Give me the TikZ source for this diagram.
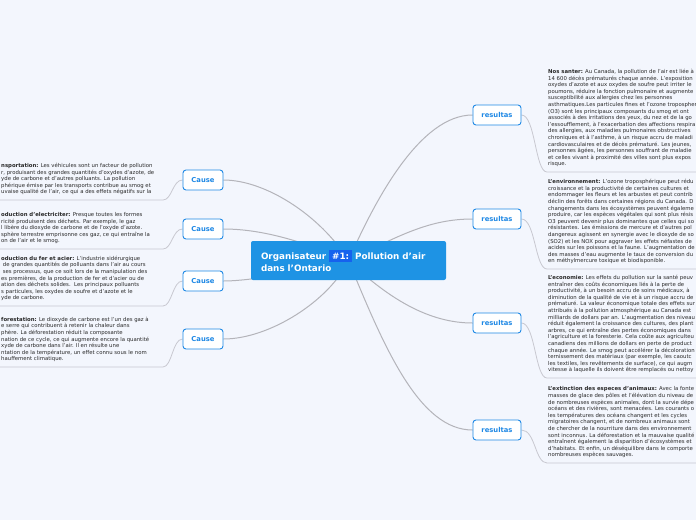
\documentclass[tikz,border=0pt]{standalone}
\usepackage{fontspec}
\setmainfont{DejaVu Sans}
\usepackage{xcolor}
\usetikzlibrary{backgrounds}

\definecolor{bgcol}{RGB}{243,246,253}
\definecolor{mainblue}{RGB}{30,147,228}
\definecolor{tagblue}{RGB}{22,98,238}
\definecolor{causeblue}{RGB}{30,136,229}
\definecolor{linkgray}{RGB}{180,180,186}
\definecolor{sublink}{RGB}{200,200,208}
\definecolor{notetext}{RGB}{40,40,40}

\newcommand{\notefont}{\fontsize{5.35}{6.6}\selectfont}

\begin{document}
\begin{tikzpicture}[x=1pt, y=-1pt,
    topic/.style={fill=mainblue, rounded corners=2pt, text=white, align=left, text width=175pt,
      inner xsep=10pt, minimum height=39pt, font=\fontsize{8.8}{12}\selectfont\bfseries},
    cause/.style={draw=causeblue, fill=white, rounded corners=3pt, line width=0.9pt, minimum width=40pt,
      minimum height=20pt, inner sep=0pt, text=causeblue, font=\fontsize{6.8}{8}\selectfont\bfseries},
    result/.style={cause, minimum width=48pt},
    note/.style={anchor=south west, align=left, inner xsep=1pt, inner ysep=4pt, text=notetext, font=\notefont},
    branch/.style={draw=linkgray, line width=1pt},
    link/.style={draw=sublink, line width=0.8pt}
  ]
    \useasboundingbox (0,0) rectangle (696,520);

    \node[topic] (org) at (348.5,260.5) {Organisateur \colorbox{tagblue}{\#1:} Pollution d'air\\dans l'Ontario};

    % causes
    \node[cause] (c1) at (203,180) {Cause};
    \node[cause] (c2) at (203,229) {Cause};
    \node[cause] (c3) at (203,281) {Cause};
    \node[cause] (c4) at (203,339) {Cause};

    % resultats
    \node[result] (r1) at (497,115) {resultas};
    \node[result] (r2) at (497,219) {resultas};
    \node[result] (r3) at (497,323) {resultas};
    \node[result] (r4) at (497,430) {resultas};

    % notes on the left
    \node[note] (transp) at (0,200) {\textbf{nsportation:} Les véhicules sont un facteur de pollution\\
      r, produisant des grandes quantités d'oxydes d'azote, de\\
      yde de carbone et d'autres polluants. La pollution\\
      phérique émise par les transports contribue au smog et\\
      uvaise qualité de l'air, ce qui a des effets négatifs sur la\strut};
    \node[note] (elec) at (0,249) {\textbf{oduction d'electriciter:} Presque toutes les formes\\
      ricité produisent des déchets. Par exemple, le gaz\\
      l libère du dioxyde de carbone et de l'oxyde d'azote.\\
      sphère terrestre emprisonne ces gaz, ce qui entraîne la\\
      on de l'air et le smog.\strut};
    \node[note] (fer) at (0,306) {\textbf{oduction du fer et acier:} L'industrie sidérurgique\\
      \ de grandes quantités de polluants dans l'air au cours\\
      \ ses processus, que ce soit lors de la manipulation des\\
      es premières, de la production de fer et d'acier ou de\\
      ation des déchets solides.\ \ Les principaux polluants\\
      s particules, les oxydes de soufre et d'azote et le\\
      yde de carbone.\strut};
    \node[note] (defor) at (0,367) {\textbf{forestation:} Le dioxyde de carbone est l'un des gaz à\\
      e serre qui contribuent à retenir la chaleur dans\\
      phère. La déforestation réduit la composante\\
      nation de ce cycle, ce qui augmente encore la quantité\\
      xyde de carbone dans l'air. Il en résulte une\\
      ntation de la température, un effet connu sous le nom\\
      hauffement climatique.\strut};

    % notes on the right
    \node[note] (sante) at (547,172) {\textbf{Nos santer:} Au Canada, la pollution de l'air est liée à\\
      14 600 décès prématurés chaque année. L'exposition\\
      oxydes d'azote et aux oxydes de soufre peut irriter le\\
      poumons, réduire la fonction pulmonaire et augmente\\
      susceptibilité aux allergies chez les personnes\\
      asthmatiques.Les particules fines et l'ozone tropospher\\
      (O3) sont les principaux composants du smog et ont\\
      associés à des irritations des yeux, du nez et de la go\\
      l'essoufflement, à l'exacerbation des affections respira\\
      des allergies, aux maladies pulmonaires obstructives\\
      chroniques et à l'asthme, à un risque accru de maladi\\
      cardiovasculaires et de décès prématuré. Les jeunes,\\
      personnes âgées, les personnes souffrant de maladie\\
      et celles vivant à proximité des villes sont plus expos\\
      risque.\strut};
    \node[note] (envir) at (547,269) {\textbf{L'environnement:} L'ozone troposphérique peut rédu\\
      croissance et la productivité de certaines cultures et\\
      endommager les fleurs et les arbustes et peut contrib\\
      déclin des forêts dans certaines régions du Canada. D\\
      changements dans les écosystèmes peuvent égaleme\\
      produire, car les espèces végétales qui sont plus résis\\
      O3 peuvent devenir plus dominantes que celles qui so\\
      résistantes. Les émissions de mercure et d'autres pol\\
      dangereux agissent en synergie avec le dioxyde de so\\
      (SO2) et les NOX pour aggraver les effets néfastes de\\
      acides sur les poissons et la faune. L'augmentation de\\
      des masses d'eau augmente le taux de conversion du\\
      en méthylmercure toxique et biodisponible.\strut};
    \node[note] (econ) at (547,378) {\textbf{L'economie:} Les effets du pollution sur la santé peuv\\
      entraîner des coûts économiques liés à la perte de\\
      productivité, à un besoin accru de soins médicaux, à\\
      diminution de la qualité de vie et à un risque accru de\\
      prématuré. La valeur économique totale des effets sur\\
      attribués à la pollution atmosphérique au Canada est\\
      milliards de dollars par an. L'augmentation des niveau\\
      réduit également la croissance des cultures, des plant\\
      arbres, ce qui entraîne des pertes économiques dans\\
      l'agriculture et la foresterie. Cela coûte aux agriculteu\\
      canadiens des millions de dollars en perte de product\\
      chaque année. Le smog peut accélérer la décoloration\\
      ternissement des matériaux (par exemple, les caoutc\\
      les textiles, les revêtements de surface), ce qui augm\\
      vitesse à laquelle ils doivent être remplacés ou nettoy\strut};
    \node[note] (extin) at (547,463) {\textbf{L'extinction des especes d'animaux:} Avec la fonte\\
      masses de glace des pôles et l'élévation du niveau de\\
      de nombreuses espèces animales, dont la survie dépe\\
      océans et des rivières, sont menacées. Les courants o\\
      les températures des océans changent et les cycles\\
      migratoires changent, et de nombreux animaux sont\\
      de chercher de la nourriture dans des environnement\\
      sont inconnus. La déforestation et la mauvaise qualité\\
      entraînent également la disparition d'écosystèmes et\\
      d'habitats. Et enfin, un déséquilibre dans le comporte\\
      nombreuses espèces sauvages.\strut};

    % ends of the underlines
    \coordinate (k1) at (163,200);
    \coordinate (k2) at (163,249);
    \coordinate (k3) at (163,306);
    \coordinate (k4) at (163,367);

    \begin{scope}[on background layer]
      \fill[bgcol] (0,0) rectangle (696,520);
      % main branches
      \draw[branch] (org.center) .. controls (320,215) and (265,180) .. (c1.east);
      \draw[branch] (org.center) .. controls (300,240) and (260,229) .. (c2.east);
      \draw[branch] (org.center) .. controls (300,272) and (250,281) .. (c3.east);
      \draw[branch] (org.center) .. controls (330,300) and (270,339) .. (c4.east);
      \draw[branch] (org.center) .. controls (375,200) and (420,115) .. (r1.west);
      \draw[branch] (org.center) .. controls (400,235) and (430,219) .. (r2.west);
      \draw[branch] (org.center) .. controls (390,300) and (430,323) .. (r3.west);
      \draw[branch] (org.center) .. controls (385,350) and (420,430) .. (r4.west);
      % to the notes
      \draw[link] (c1.west) .. controls +(-10,0) and +(9,0) .. (k1) -- (transp.south west);
      \draw[link] (c2.west) .. controls +(-10,0) and +(9,0) .. (k2) -- (elec.south west);
      \draw[link] (c3.west) .. controls +(-10,0) and +(9,0) .. (k3) -- (fer.south west);
      \draw[link] (c4.west) .. controls +(-10,0) and +(9,0) .. (k4) -- (defor.south west);
      \draw[link] (r1.east) .. controls +(14,0) and +(-12,0) .. (sante.south west) -- ++(160,0);
      \draw[link] (r2.east) .. controls +(14,0) and +(-12,0) .. (envir.south west) -- ++(160,0);
      \draw[link] (r3.east) .. controls +(14,0) and +(-12,0) .. (econ.south west) -- ++(160,0);
      \draw[link] (r4.east) .. controls +(14,0) and +(-12,0) .. (extin.south west) -- ++(160,0);
    \end{scope}
\end{tikzpicture}
\end{document}
